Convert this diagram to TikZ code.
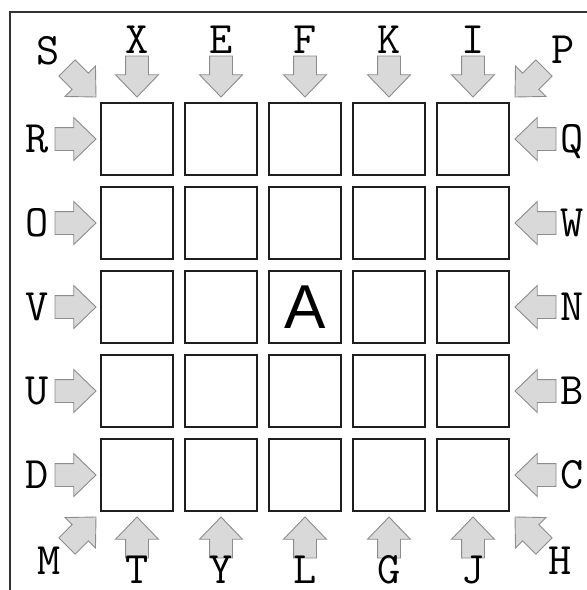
\documentclass[tikz,border=0pt]{standalone}
\usepackage{fontspec}
\newfontfamily\arialfont{Liberation Sans}
\usetikzlibrary{shapes.arrows, positioning}
\definecolor{ArrowFill}{HTML}{D9D9D9}
\definecolor{ArrowLine}{HTML}{8C8C8C}
\definecolor{BoxLine}{HTML}{1E1E1E}
\definecolor{FrameLine}{HTML}{333333}
\tikzset{
  % caselle della griglia
  cell/.style={draw=BoxLine, line width=1.6pt, minimum size=72pt, inner sep=0pt, outer sep=0pt},
  % frecce a blocco
  push/.style={single arrow, draw=ArrowLine, fill=ArrowFill, line width=0.9pt,
    inner xsep=0pt, inner ysep=11pt, outer sep=0pt, minimum width=42pt, minimum height=41pt,
    single arrow head extend=10pt, single arrow tip angle=88, anchor=tip},
  % lettere
  lab/.style={font=\fontsize{45}{45}\selectfont\ttfamily, inner sep=0pt, anchor=base},
  big/.style={font=\arialfont\fontsize{62}{62}\selectfont, inner sep=0pt}
}
\begin{document}
\begin{tikzpicture}[x=1pt, y=-1pt]
  \useasboundingbox (0,0) rectangle (587,590);
  % cornice
  \draw[FrameLine, line width=1.2pt] (10,590) -- (10,12) -- (587,12);
  % griglia 5x5
  \foreach \r in {1,...,5}
    \foreach \c in {1,...,5}
      \node[cell] (c\r\c) at ({137+84*(\c-1)}, {139+84*(\r-1)}) {};
  \node[big] (centro) at (c33) {A};
  % frecce e lettere sopra / sotto
  \foreach \c/\t/\b in {1/X/T, 2/E/Y, 3/F/L, 4/K/G, 5/I/J} {
    \node[push, rotate=-90] (top\c) at ([yshift=6pt]c1\c.north) {};
    \node[push, rotate=90] (bot\c) at ([yshift=-6pt]c5\c.south) {};
    \node[lab] (lt\c) at ({137+84*(\c-1)}, 53) {\t};
    \node[lab] (lb\c) at ({137+84*(\c-1)}, 583) {\b};
  }
  % frecce e lettere a sinistra / destra
  \foreach \r/\s/\d in {1/R/Q, 2/O/W, 3/V/N, 4/U/B, 5/D/C} {
    \node[push] (left\r) at ([xshift=-5pt]c\r1.west) {};
    \node[push, rotate=180] (right\r) at ([xshift=6pt]c\r5.east) {};
    \node[lab] (ll\r) at (37, {152+84*(\r-1)}) {\s};
    \node[lab] (lr\r) at (572, {152+84*(\r-1)}) {\d};
  }
  % angoli
  \node[push, rotate=-45] (nw) at ([xshift=-5pt, yshift=6pt]c11.north west) {};
  \node[push, rotate=-135] (ne) at ([xshift=6pt, yshift=6pt]c15.north east) {};
  \node[push, rotate=45] (sw) at ([xshift=-5pt, yshift=-6pt]c51.south west) {};
  \node[push, rotate=135] (se) at ([xshift=6pt, yshift=-6pt]c55.south east) {};
  \node[lab] (lS) at (48, 64) {S};
  \node[lab] (lP) at (563, 63) {P};
  \node[lab] (lM) at (49, 574) {M};
  \node[lab] (lH) at (560, 574) {H};
\end{tikzpicture}
\end{document}
